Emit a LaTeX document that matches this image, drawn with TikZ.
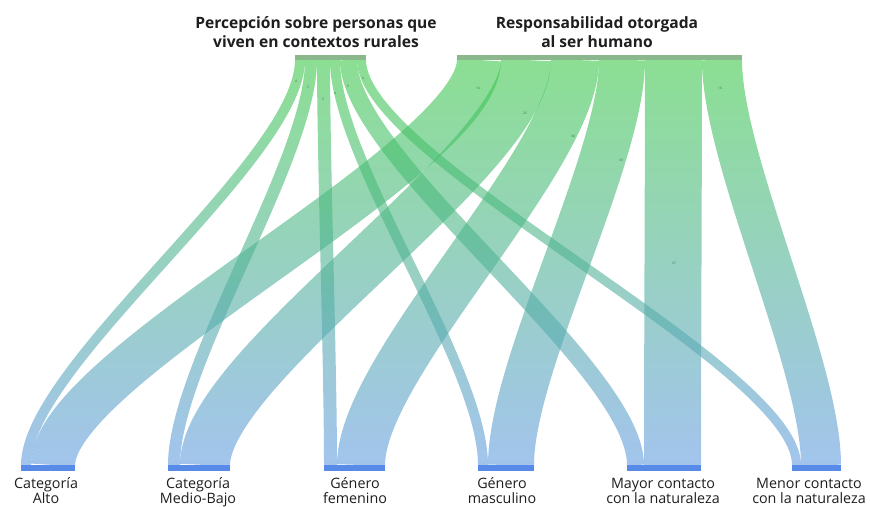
\documentclass[tikz,border=0pt]{standalone}
\usepackage{fontspec}
\setmainfont{Open Sans}
\usetikzlibrary{calc}
\definecolor{ctop}{RGB}{62,200,75}
\definecolor{cmid}{RGB}{75,176,146}
\definecolor{cbot}{RGB}{100,156,224}
\definecolor{topbarc}{RGB}{138,184,140}
\definecolor{botbarc}{RGB}{88,139,232}
\definecolor{lblc}{RGB}{40,110,60}
\definecolor{txtc}{RGB}{30,30,30}
\newcommand\flowlink[3]{\draw[flowline, line width=#1pt] (#2) .. controls ($(#2)+(0,100)$) and ($(#3)+(0,-100)$) .. (#3);}
\begin{document}
\begin{tikzpicture}[x=1pt,y=-1pt,
  flowline/.style={draw=black, draw opacity=0.6},
  topbar/.style={fill=topbarc, draw=none, inner sep=0pt, minimum height=5pt},
  botbar/.style={fill=botbarc, draw=none, inner sep=0pt, minimum height=6pt},
  ttl/.style={anchor=base, inner sep=0pt, text=txtc, font=\bfseries\fontsize{15.6}{19}\selectfont},
  lab/.style={anchor=base, inner sep=0pt, text=txtc, font=\fontsize{14.3}{15}\selectfont},
  tinylab/.style={inner sep=0pt, text=lblc, font=\fontsize{3.2}{3.2}\selectfont}]
\fill[white] (0,0) rectangle (870,506);
\useasboundingbox (0,0) rectangle (870,506);

% flow end points: top (source) side
\coordinate (P-alto) at (300,60);
\coordinate (P-mb)   at (311,60);
\coordinate (P-fem)  at (323.5,60);
\coordinate (P-mas)  at (335,60);
\coordinate (P-may)  at (348.5,60);
\coordinate (P-men)  at (361.5,60);
\coordinate (R-alto) at (479,60);
\coordinate (R-mb)   at (526,60);
\coordinate (R-fem)  at (575,60);
\coordinate (R-mas)  at (622,60);
\coordinate (R-may)  at (673.5,60);
\coordinate (R-men)  at (722,60);
% bottom (target) side
\coordinate (alto-P) at (26,465);
\coordinate (alto-R) at (53,465);
\coordinate (mb-P)   at (174,465);
\coordinate (mb-R)   at (205,465);
\coordinate (fem-P)  at (330.5,465);
\coordinate (fem-R)  at (361,465);
\coordinate (mas-P)  at (483,465);
\coordinate (mas-R)  at (511,465);
\coordinate (may-P)  at (635.5,465);
\coordinate (may-R)  at (672.5,465);
\coordinate (men-P)  at (796.5,465);
\coordinate (men-R)  at (821,465);

% flows (drawn in black, coloured by the screen-blended gradient)
\flowlink{10}{P-alto}{alto-P}
\flowlink{12}{P-mb}{mb-P}
\flowlink{13}{P-fem}{fem-P}
\flowlink{10}{P-mas}{mas-P}
\flowlink{17}{P-may}{may-P}
\flowlink{9}{P-men}{men-P}
\flowlink{44}{R-alto}{alto-R}
\flowlink{50}{R-mb}{mb-R}
\flowlink{48}{R-fem}{fem-R}
\flowlink{46}{R-mas}{mas-R}
\flowlink{57}{R-may}{may-R}
\flowlink{40}{R-men}{men-R}

\begin{scope}[blend mode=screen]
\shade[top color=ctop, middle color=cmid, bottom color=cbot] (0,60) rectangle (870,465);
\end{scope}

% bars
\node[topbar, minimum width=71pt]  (perc) at (330.5,57.5) {};
\node[topbar, minimum width=285pt] (resp) at (599.5,57.5) {};
\node[botbar, minimum width=54pt] (alto) at (48,468) {};
\node[botbar, minimum width=62pt] (mb)   at (199,468) {};
\node[botbar, minimum width=61pt] (fem)  at (354.5,468) {};
\node[botbar, minimum width=56pt] (mas)  at (506,468) {};
\node[botbar, minimum width=74pt] (may)  at (664,468) {};
\node[botbar, minimum width=49pt] (men)  at (816.5,468) {};

% tiny value labels
\node[tinylab] at (296,81) {4};
\node[tinylab] at (308,87) {5};
\node[tinylab] at (323,99) {5};
\node[tinylab] at (335,93) {4};
\node[tinylab] at (348,86) {6};
\node[tinylab] at (363,78) {4};
\node[tinylab] at (478,88) {16};
\node[tinylab] at (525,113) {25};
\node[tinylab] at (573,136) {30};
\node[tinylab] at (621,160) {33};
\node[tinylab] at (674,263) {37};
\node[tinylab] at (720,88) {16};

% titles
\node[ttl] (t1a) at (316,28) {Percepción sobre personas que};
\node[ttl] (t1b) at (316,47) {viven en contextos rurales};
\node[ttl] (t2a) at (597,28) {Responsabilidad otorgada};
\node[ttl] (t2b) at (597,47) {al ser humano};

% bottom labels
\node[lab] (l1a) at (46,488) {Categoría};
\node[lab] (l1b) at (46,503) {Alto};
\node[lab] (l2a) at (198,488) {Categoría};
\node[lab] (l2b) at (198,503) {Medio-Bajo};
\node[lab] (l3a) at (355,488) {Género};
\node[lab] (l3b) at (355,503) {femenino};
\node[lab] (l4a) at (502,488) {Género};
\node[lab] (l4b) at (502,503) {masculino};
\node[lab] (l5a) at (663,488) {Mayor contacto};
\node[lab] (l5b) at (663,503) {con la naturaleza};
\node[lab] (l6a) at (809,488) {Menor contacto};
\node[lab] (l6b) at (809,503) {con la naturaleza};
\end{tikzpicture}
\end{document}
